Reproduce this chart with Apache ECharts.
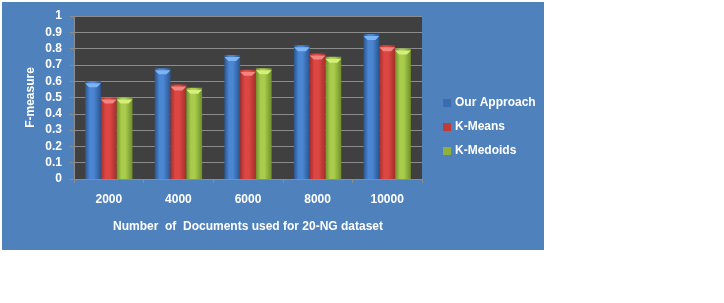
<!DOCTYPE html>
<html>
<head>
<meta charset="utf-8">
<script src="https://cdn.jsdelivr.net/npm/echarts@6/dist/echarts.min.js"></script>
<style>html,body{margin:0;padding:0;background:#fff;}#c{width:724px;height:303px;}</style>
</head>
<body>
<div id="c"></div>
<script>
var categories = ['2000', '4000', '6000', '8000', '10000'];
var ourApproach = [0.60, 0.68, 0.76, 0.82, 0.89];
var kMeans = [0.50, 0.58, 0.67, 0.77, 0.82];
var kMedoids = [0.50, 0.56, 0.68, 0.75, 0.80];
var seriesNames = ['Our Approach', 'K-Means', 'K-Medoids'];

function grad(edge, mid) {
  return new echarts.graphic.LinearGradient(0, 0, 1, 0, [
    {offset: 0, color: edge}, {offset: 0.3, color: mid}, {offset: 0.55, color: mid}, {offset: 1, color: edge}
  ]);
}
var fills = [grad('#2a5590', '#4a86d2'), grad('#a52e2b', '#dc4743'), grad('#6f8f2a', '#a9cc4c')];
var capColors = ['#7fb4f2', '#f28482', '#d4f07a'];
var legendColors = ['#3a6cb0', '#c23b38', '#8fb03c'];
var font = 'Liberation Sans';
var chart = echarts.init(document.getElementById('c'));
var datas = [ourApproach, kMeans, kMedoids];
var series = datas.map(function (d, i) {
  return {
    name: seriesNames[i], type: 'bar', data: d, barGap: '0%', barCategoryGap: '32%',
    itemStyle: {color: fills[i]}
  };
});
datas.forEach(function (d, i) {
  series.push({
    name: seriesNames[i] + ' cap', type: 'pictorialBar', data: d, barGap: '0%', barCategoryGap: '32%',
    symbol: 'path://M0,0 L10,0 L7.5,3 L2.5,3 Z', symbolSize: ['100%', 4], symbolPosition: 'end',
    symbolOffset: [0, '50%'], z: 5, silent: true, legendHoverLink: false,
    itemStyle: {color: capColors[i]}
  });
});
chart.setOption({
  backgroundColor: '#ffffff',
  animation: false,
  graphic: [{type: 'rect', z: -10, shape: {x: 2, y: 2, width: 542, height: 248}, style: {fill: '#4f81bd'}}],
  grid: {left: 74, top: 16, width: 348, height: 163, show: true, backgroundColor: '#404040', borderWidth: 0},
  legend: {
    orient: 'vertical', left: 443, top: 97, padding: 0, itemWidth: 8, itemHeight: 8, itemGap: 12,
    icon: 'rect',
    data: seriesNames.map(function (n, i) { return {name: n, itemStyle: {color: legendColors[i]}}; }),
    textStyle: {color: '#ffffff', fontFamily: font, fontWeight: 'bold', fontSize: 12, padding: [0, 0, 0, -1]}
  },
  xAxis: {
    type: 'category', data: categories,
    name: 'Number  of  Documents used for 20-NG dataset', nameLocation: 'middle', nameGap: 42,
    nameTextStyle: {color: '#ffffff', fontFamily: font, fontWeight: 'bold', fontSize: 12},
    axisLine: {lineStyle: {color: '#8c8c8c'}},
    axisTick: {show: true, length: 4, lineStyle: {color: '#8c8c8c'}},
    axisLabel: {color: '#ffffff', fontFamily: font, fontWeight: 'bold', fontSize: 12, margin: 15}
  },
  yAxis: {
    type: 'value', min: 0, max: 1, interval: 0.1,
    name: 'F-measure', nameLocation: 'middle', nameGap: 37,
    nameTextStyle: {color: '#ffffff', fontFamily: font, fontWeight: 'bold', fontSize: 12},
    axisLine: {show: true, lineStyle: {color: '#8c8c8c'}},
    axisTick: {show: true, length: 4, lineStyle: {color: '#8c8c8c'}},
    splitLine: {lineStyle: {color: '#8c8c8c'}},
    axisLabel: {color: '#ffffff', fontFamily: font, fontWeight: 'bold', fontSize: 12, margin: 12,
      formatter: function (v) { return String(Math.round(v * 10) / 10); }}
  },
  series: series
});
</script>
</body>
</html>
